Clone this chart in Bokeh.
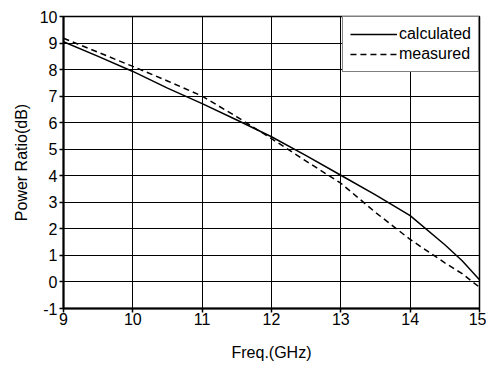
from bokeh.plotting import figure
from bokeh.models import Range1d, FixedTicker, Legend, LegendItem
from bokeh.embed import file_html
from bokeh.resources import INLINE

freq = [9, 9.5, 10, 10.5, 11, 11.5, 12, 12.5, 13, 13.5, 14, 14.5, 14.75, 15]
calculated = [9.05, 8.5, 7.93, 7.3, 6.72, 6.1, 5.47, 4.76, 4.02, 3.28, 2.5, 1.4, 0.8, 0.08]
measured = [9.18, 8.65, 8.12, 7.57, 7.0, 6.22, 5.4, 4.55, 3.72, 2.62, 1.6, 0.72, 0.31, -0.2]
x_ticks = [9, 10, 11, 12, 13, 14, 15]
y_ticks = [-1, 0, 1, 2, 3, 4, 5, 6, 7, 8, 9, 10]
y_tick_labels = {t: str(t) for t in y_ticks}

FONT = "Liberation Sans"

p = figure(width=486, height=363, output_backend="svg", toolbar_location=None,
           x_range=Range1d(9, 15), y_range=Range1d(-1, 10),
           min_border_left=63, min_border_right=7, min_border_top=16, min_border_bottom=54)

p.outline_line_color = "black"
p.outline_line_width = 1.5
p.background_fill_color = "white"
p.border_fill_color = "white"

for ax, ticks in ((p.xaxis[0], x_ticks), (p.yaxis[0], y_ticks)):
    ax.ticker = FixedTicker(ticks=ticks)
    ax.major_label_text_font = FONT
    ax.major_label_text_font_size = "16px"
    ax.major_label_text_color = "black"
    ax.axis_label_text_font = FONT
    ax.axis_label_text_font_size = "16px"
    ax.axis_label_text_font_style = "normal"
    ax.axis_label_text_color = "black"
    ax.axis_line_color = "black"
    ax.axis_line_width = 2
    ax.major_tick_line_color = "black"
    ax.major_tick_line_width = 1.5
    ax.major_tick_out = 4
    ax.major_tick_in = 0
    ax.minor_tick_line_color = None

p.yaxis[0].major_label_overrides = y_tick_labels
p.xaxis.axis_label = "Freq.(GHz)"
p.yaxis.axis_label = "Power Ratio(dB)"
p.xaxis.major_label_standoff = 0
p.yaxis.major_label_standoff = 2
p.xaxis.axis_label_standoff = 16
p.yaxis.axis_label_standoff = 7

p.xgrid[0].ticker = FixedTicker(ticks=x_ticks)
p.ygrid[0].ticker = FixedTicker(ticks=y_ticks)
for g in (p.xgrid[0], p.ygrid[0]):
    g.grid_line_color = "black"
    g.grid_line_width = 1
    g.grid_line_alpha = 1.0

r1 = p.line(freq, calculated, line_color="black", line_width=1.5)
r2 = p.line(freq, measured, line_color="black", line_width=1.5, line_dash="6 4")

legend = Legend(items=[LegendItem(label="calculated", renderers=[r1]),
                       LegendItem(label="measured", renderers=[r2])],
                location="top_right")
legend.label_text_font = FONT
legend.label_text_font_size = "16px"
legend.label_text_color = "black"
legend.border_line_color = "black"
legend.border_line_width = 1.5
legend.background_fill_alpha = 1.0
legend.glyph_width = 47
legend.glyph_height = 20
legend.label_height = 20
legend.label_standoff = 2
legend.padding = 7
legend.spacing = 0
legend.margin = 0
p.add_layout(legend, "center")

open("out.html", "w").write(file_html(p, INLINE))
